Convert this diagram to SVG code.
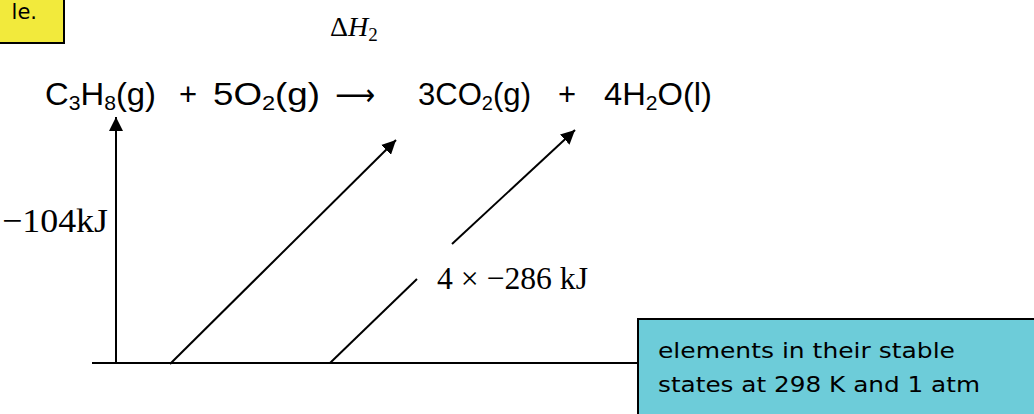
<svg xmlns="http://www.w3.org/2000/svg" width="1034" height="414" viewBox="0 0 1034 414">
<style>
.eq{font-family:"Liberation Sans",Arial,sans-serif;font-size:31px;fill:#000}
.tm{font-family:"Liberation Serif","Times New Roman",serif;font-size:32px;fill:#000}
.cm{font-family:"DejaVu Sans",sans-serif;font-size:22px;fill:#000}
.ln{stroke:#000;stroke-width:2;fill:none}
</style>
<defs>
<marker id="ah" markerUnits="userSpaceOnUse" markerWidth="16" markerHeight="14" refX="14" refY="7" orient="auto">
<path d="M0,0 L14,7 L0,14 Z" fill="#000"/>
</marker>
</defs>
<g id="title-note">
<rect x="-3" y="-3" width="67" height="46" fill="#F2EA3C" stroke="#000" stroke-width="2"/>
<text class="cm" x="37" y="19" text-anchor="end" style="font-size:21px">le.</text>
</g>
<g id="equation">
<text class="eq" x="45" y="105" textLength="111" lengthAdjust="spacingAndGlyphs">C<tspan font-size="20" dy="5">3</tspan><tspan dy="-5">H</tspan><tspan font-size="20" dy="5">8</tspan><tspan dy="-5">(g)</tspan></text>
<text class="eq" x="188" y="105" text-anchor="middle">+</text>
<text class="eq" x="213" y="105" textLength="107" lengthAdjust="spacingAndGlyphs">5O<tspan font-size="20" dy="5">2</tspan><tspan dy="-5">(g)</tspan></text>
<text x="335" y="105" textLength="40" lengthAdjust="spacingAndGlyphs" style="font-family:'DejaVu Sans',sans-serif;font-size:30px">⟶</text>
<text class="eq" x="418" y="105" textLength="113" lengthAdjust="spacingAndGlyphs">3CO<tspan font-size="20" dy="5">2</tspan><tspan dy="-5">(g)</tspan></text>
<text class="eq" x="567" y="105" text-anchor="middle">+</text>
<text class="eq" x="604" y="105" textLength="108" lengthAdjust="spacingAndGlyphs">4H<tspan font-size="20" dy="5">2</tspan><tspan dy="-5">O(l)</tspan></text>
</g>
<g id="dh2-label">
<text class="tm" x="330" y="36" style="font-size:28px">Δ<tspan font-style="italic">H</tspan><tspan font-size="19" dy="5">2</tspan></text>
</g>
<g id="label-104">
<text class="tm" x="2" y="232" textLength="106" lengthAdjust="spacingAndGlyphs" style="font-size:34px">−104kJ</text>
</g>
<g id="label-286">
<text class="tm" x="437" y="289" textLength="151" lengthAdjust="spacingAndGlyphs">4 × −286 kJ</text>
</g>
<g id="elements-box">
<rect x="638" y="319" width="410" height="110" fill="#6DCCD9" stroke="#000" stroke-width="2"/>
<text class="cm" x="658" y="358" textLength="297" lengthAdjust="spacingAndGlyphs">elements in their stable</text>
<text class="cm" x="658" y="392" textLength="322" lengthAdjust="spacingAndGlyphs">states at 298 K and 1 atm</text>
</g>
<g id="connectors">
<line class="ln" x1="92" y1="363" x2="638" y2="363"/>
<line class="ln" x1="116" y1="363" x2="116" y2="117" marker-end="url(#ah)"/>
<line class="ln" x1="170" y1="364" x2="396" y2="140" marker-end="url(#ah)"/>
<line class="ln" x1="330" y1="363" x2="417" y2="279"/>
<line class="ln" x1="452" y1="244" x2="575" y2="130" marker-end="url(#ah)"/>
</g>
</svg>
